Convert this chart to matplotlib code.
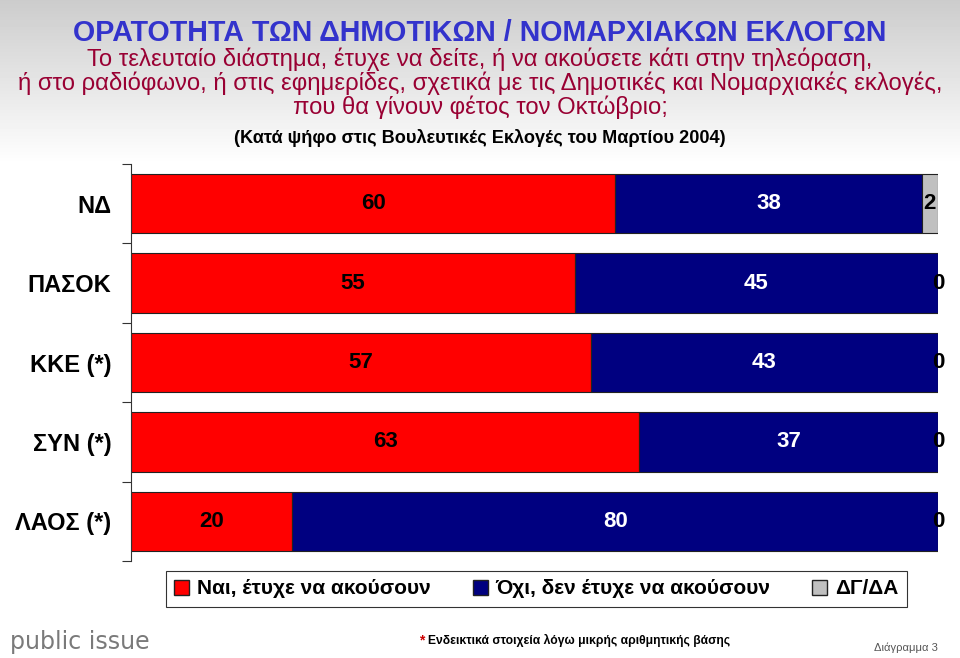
import numpy as np
import matplotlib.pyplot as plt
from matplotlib.patches import Rectangle

categories = ['ΝΔ', 'ΠΑΣΟΚ', 'ΚΚΕ (*)', 'ΣΥΝ (*)', 'ΛΑΟΣ (*)']
yes_vals = [60, 55, 57, 63, 20]
no_vals = [38, 45, 43, 37, 80]
dk_vals = [2, 0, 0, 0, 0]
series_names = ['Ναι, έτυχε να ακούσουν', 'Όχι, δεν έτυχε να ακούσουν', 'ΔΓ/ΔΑ']
colors = ['#FF0000', '#000080', '#C0C0C0']

title = 'ΟΡΑΤΟΤΗΤΑ ΤΩΝ ΔΗΜΟΤΙΚΩΝ / ΝΟΜΑΡΧΙΑΚΩΝ ΕΚΛΟΓΩΝ'
question = ['Το τελευταίο διάστημα, έτυχε να δείτε, ή να ακούσετε κάτι στην τηλεόραση,',
            'ή στο ραδιόφωνο, ή στις εφημερίδες, σχετικά με τις Δημοτικές και Νομαρχιακές εκλογές,',
            'που θα γίνουν φέτος τον Οκτώβριο;']
subq = '(Κατά ψήφο στις Βουλευτικές Εκλογές του Μαρτίου 2004)'

plt.rcParams['font.family'] = ['Liberation Sans', 'DejaVu Sans']

fig = plt.figure(figsize=(9.6, 6.58), dpi=100)

# gray gradient header background
bg = fig.add_axes([0, 0, 1, 1], zorder=-10)
grad = np.ones((658, 2))
top = np.linspace(0.80, 1.0, 165)
grad[:165, :] = top[:, None]
bg.imshow(grad, cmap='gray', vmin=0, vmax=1, aspect='auto', extent=[0, 1, 0, 1])
bg.axis('off')

fig.text(0.5, 1 - 33 / 658, title, ha='center', va='center', fontsize=20.6,
         fontweight='bold', color='#3333CC')
for i, line in enumerate(question):
    fig.text(0.5, 1 - (59 + i * 24) / 658, line, ha='center', va='center',
             fontsize=17.2, color='#990033')
fig.text(0.5, 1 - 138 / 658, subq, ha='center', va='center', fontsize=13.1,
         fontweight='bold', color='black')

ax = fig.add_axes([131 / 960, 1 - 561 / 658, (938 - 131) / 960, 397 / 658])
y = np.arange(len(categories))
h = 0.75
ax.barh(y, yes_vals, height=h, color=colors[0], edgecolor='#222222', linewidth=0.8)
ax.barh(y, no_vals, left=yes_vals, height=h, color=colors[1], edgecolor='#222222', linewidth=0.8)
left2 = np.array(yes_vals) + np.array(no_vals)
ax.barh(y, dk_vals, left=left2, height=h, color=colors[2], edgecolor='#222222', linewidth=0.8)

for i in range(len(categories)):
    ax.text(yes_vals[i] / 2, y[i], str(yes_vals[i]), ha='center', va='center',
            fontsize=16, fontweight='bold')
    ax.text(yes_vals[i] + no_vals[i] / 2, y[i], str(no_vals[i]), ha='center', va='center',
            fontsize=16, fontweight='bold', color='white')
    ax.text(left2[i] + dk_vals[i] / 2, y[i], str(dk_vals[i]), ha='center', va='center',
            fontsize=16, fontweight='bold')

ax.set_xlim(0, 100)
ax.set_ylim(len(categories) - 0.5, -0.5)
ax.set_yticks(np.arange(len(categories) + 1) - 0.5)
ax.set_yticklabels([])
ax.set_yticks(y, minor=True)
ax.set_yticklabels(categories, minor=True, fontsize=17, fontweight='bold')
ax.tick_params(axis='y', which='minor', length=0, pad=14)
ax.tick_params(axis='y', which='major', length=6.5, color='#333333')
ax.set_xticks([])
for s in ['top', 'right', 'bottom']:
    ax.spines[s].set_visible(False)
ax.spines['left'].set_color('#333333')

# legend
handles = [Rectangle((0, 0), 1, 1, facecolor=c, edgecolor='#222222') for c in colors]
leg = fig.legend(handles, series_names, loc='center', ncol=3,
                 bbox_to_anchor=(536.5 / 960, 1 - 589 / 658), frameon=True, fancybox=False,
                 edgecolor='black', prop={'weight': 'bold', 'size': 15},
                 handlelength=0.72, handleheight=0.72, handletextpad=0.38, columnspacing=2.0,
                 borderpad=0.4, borderaxespad=0)
leg.get_frame().set_linewidth(0.8)

fig.text(10 / 960, 1 - 642 / 658, 'public issue', ha='left', va='center', fontsize=17,
         color='#7a7a7a', family=['DejaVu Sans'])
fig.text(419 / 960, 1 - 640 / 658, '*', ha='left', va='center', fontsize=10,
         fontweight='bold', color='#CC0000')
fig.text(428 / 960, 1 - 640 / 658, 'Ενδεικτικά στοιχεία λόγω μικρής αριθμητικής βάσης',
         ha='left', va='center', fontsize=8.7, fontweight='bold')
fig.text(938 / 960, 1 - 648 / 658, 'Διάγραμμα 3', ha='right', va='center', fontsize=8,
         color='#555555')

fig.savefig('out.png', dpi=100)
